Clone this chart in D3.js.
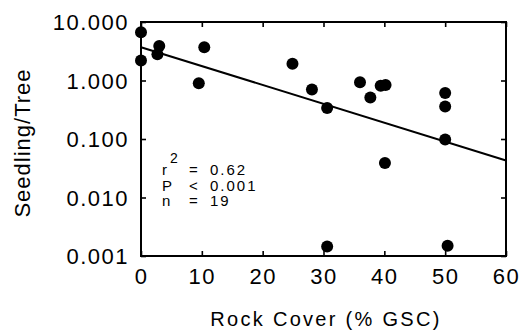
<!DOCTYPE html>
<html>
<head>
<meta charset="utf-8">
<script src="https://cdn.jsdelivr.net/npm/d3@7"></script>
<style>
  body { margin: 0; background: #fff; }
  svg text { font-family: "Liberation Sans", Arial, sans-serif; fill: #000; }
</style>
</head>
<body>
<script>
// 岩の被覆率 (% GSC)
var rockCover = [0, 0, 3.0, 2.7, 10.4, 9.5, 24.9, 28.1, 30.6, 36.0, 37.7, 39.4, 40.2, 50.0, 50.0, 50.0, 40.1, 30.6, 50.4];
// 実生数/樹
var seedlingPerTree = [6.7, 2.2, 3.9, 2.8, 3.7, 0.9, 1.93, 0.70, 0.34, 0.93, 0.51, 0.81, 0.84, 0.61, 0.36, 0.098, 0.039, 0.00145, 0.0015];
// 回帰直線の両端
var fitX = [0, 60];
var fitY = [3.7, 0.043];
// 目盛り
var xTicks = [0, 10, 20, 30, 40, 50, 60];
var yTicks = [0.001, 0.01, 0.1, 1, 10];
var yTickLabels = ["0.001", "0.010", "0.100", "1.000", "10.000"];
// 統計量の注記
var statLines = [["r", "=", "0.62"], ["P", "<", "0.001"], ["n", "=", "19"]];

var W = 523, H = 330;
var margin = {left: 141, right: 17, top: 22, bottom: 74};
var pw = W - margin.left - margin.right;
var ph = H - margin.top - margin.bottom;

var svg = d3.select("body").append("svg")
	.attr("width", W)
	.attr("height", H);

var g = svg.append("g")
	.attr("transform", "translate(" + margin.left + "," + margin.top + ")");

var x = d3.scaleLinear().domain([0, 60]).range([0, pw]);
var y = d3.scaleLog().domain([0.001, 10]).range([ph, 0]);

// 軸 (目盛りは内向き)
var fmtY = function(d){ return yTickLabels[yTicks.indexOf(d)]; };

var axL = g.append("g")
	.call(d3.axisLeft(y).tickValues(yTicks).tickFormat(fmtY).tickSize(-5).tickPadding(12));
var axB = g.append("g")
	.attr("transform", "translate(0," + ph + ")")
	.call(d3.axisBottom(x).tickValues(xTicks).tickSize(-5).tickPadding(12));
var axT = g.append("g")
	.call(d3.axisTop(x).tickValues(xTicks).tickSize(-5).tickFormat(""));
var axR = g.append("g")
	.attr("transform", "translate(" + pw + ",0)")
	.call(d3.axisRight(y).tickValues(yTicks).tickSize(-5).tickFormat(""));

[axL, axB, axT, axR].forEach(function(a){
	a.select(".domain").remove();
	a.selectAll(".tick line").attr("stroke", "#000").attr("stroke-width", 1.6);
	a.selectAll(".tick text")
		.style("font-size", "22px")
		.style("letter-spacing", "1.5px");
});
axL.selectAll(".tick text").attr("dy", "0.35em");

// 枠
g.append("rect")
	.attr("x", 0).attr("y", 0)
	.attr("width", pw).attr("height", ph)
	.attr("fill", "none")
	.attr("stroke", "#000")
	.attr("stroke-width", 2);

// 回帰直線
g.append("line")
	.attr("x1", x(fitX[0])).attr("y1", y(fitY[0]))
	.attr("x2", x(fitX[1])).attr("y2", y(fitY[1]))
	.attr("stroke", "#000")
	.attr("stroke-width", 2);

// 点
g.selectAll(".pt")
	.data(rockCover)
	.enter().append("circle")
	.attr("class", "pt")
	.attr("cx", function(d){ return x(d); })
	.attr("cy", function(d, i){ return y(seedlingPerTree[i]); })
	.attr("r", 6)
	.attr("fill", "#000");

// 注記
var stat = g.append("g").attr("transform", "translate(21,153)");
statLines.forEach(function(row, i){
	var t = stat.append("g").attr("transform", "translate(0," + (i * 15.5) + ")");
	t.append("text").attr("x", 0).text(row[0]).style("font-size", "15px");
	t.append("text").attr("x", 27).text(row[1]).style("font-size", "15px");
	t.append("text").attr("x", 48).text(row[2]).style("font-size", "15px").style("letter-spacing", "2px");
});
stat.append("text").attr("x", 8).attr("y", -12).text("2").style("font-size", "14px");

// 軸ラベル
svg.append("text")
	.attr("x", 326)
	.attr("y", 326)
	.attr("text-anchor", "middle")
	.style("font-size", "20px")
	.style("letter-spacing", "2.3px")
	.text("Rock Cover (% GSC)");

svg.append("text")
	.attr("transform", "translate(30," + 143 + ") rotate(-90)")
	.attr("text-anchor", "middle")
	.style("font-size", "22px")
	.style("letter-spacing", "1px")
	.text("Seedling/Tree");
</script>
</body>
</html>
